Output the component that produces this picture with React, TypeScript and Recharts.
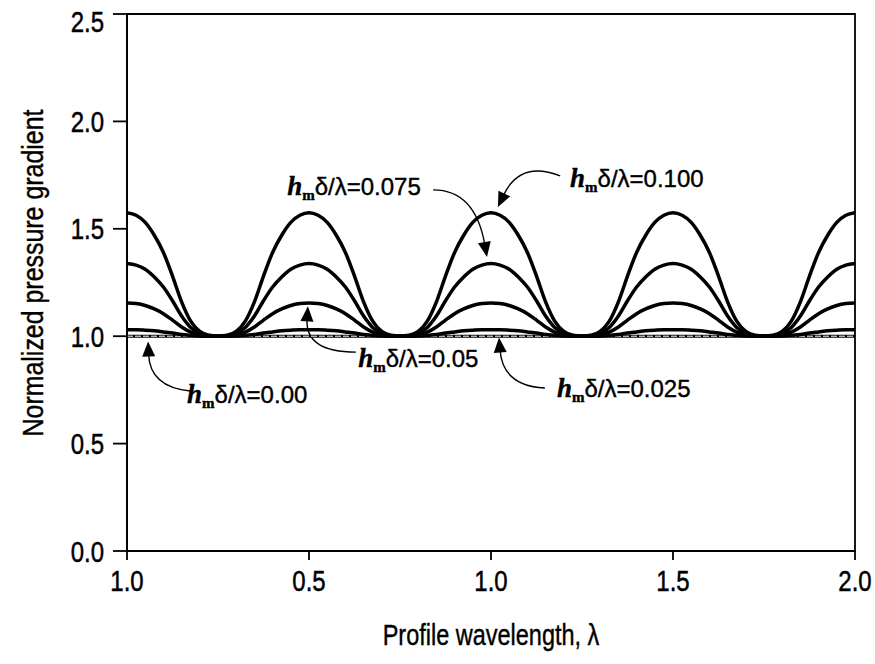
import React from 'react';
import { LineChart, Line, XAxis, YAxis, ReferenceArea, Customized } from 'recharts';

// ---------- data ----------
const X = [
  0, 0.025, 0.05, 0.075, 0.1, 0.125, 0.15, 0.175, 0.2, 0.225, 0.25, 0.275, 0.3, 0.325, 0.35, 0.375, 0.4, 0.425, 0.45, 0.475,
  0.5, 0.525, 0.55, 0.575, 0.6, 0.625, 0.65, 0.675, 0.7, 0.725, 0.75, 0.775, 0.8, 0.825, 0.85, 0.875, 0.9, 0.925, 0.95, 0.975,
  1, 1.025, 1.05, 1.075, 1.1, 1.125, 1.15, 1.175, 1.2, 1.225, 1.25, 1.275, 1.3, 1.325, 1.35, 1.375, 1.4, 1.425, 1.45, 1.475,
  1.5, 1.525, 1.55, 1.575, 1.6, 1.625, 1.65, 1.675, 1.7, 1.725, 1.75, 1.775, 1.8, 1.825, 1.85, 1.875, 1.9, 1.925, 1.95, 1.975,
  2,
];

const S100 = [
  1.575, 1.563, 1.530, 1.470, 1.390, 1.280, 1.160, 1.070, 1.022, 1.004, 1.000, 1.004, 1.022, 1.070, 1.160, 1.280, 1.390, 1.470, 1.530, 1.563,
  1.575, 1.563, 1.530, 1.470, 1.390, 1.280, 1.160, 1.070, 1.022, 1.004, 1.000, 1.004, 1.022, 1.070, 1.160, 1.280, 1.390, 1.470, 1.530, 1.563,
  1.575, 1.563, 1.530, 1.470, 1.390, 1.280, 1.160, 1.070, 1.022, 1.004, 1.000, 1.004, 1.022, 1.070, 1.160, 1.280, 1.390, 1.470, 1.530, 1.563,
  1.575, 1.563, 1.530, 1.470, 1.390, 1.280, 1.160, 1.070, 1.022, 1.004, 1.000, 1.004, 1.022, 1.070, 1.160, 1.280, 1.390, 1.470, 1.530, 1.563,
  1.575,
];

const S075 = [
  1.338, 1.331, 1.312, 1.276, 1.229, 1.165, 1.094, 1.041, 1.013, 1.002, 1.000, 1.002, 1.013, 1.041, 1.094, 1.165, 1.229, 1.276, 1.312, 1.331,
  1.338, 1.331, 1.312, 1.276, 1.229, 1.165, 1.094, 1.041, 1.013, 1.002, 1.000, 1.002, 1.013, 1.041, 1.094, 1.165, 1.229, 1.276, 1.312, 1.331,
  1.338, 1.331, 1.312, 1.276, 1.229, 1.165, 1.094, 1.041, 1.013, 1.002, 1.000, 1.002, 1.013, 1.041, 1.094, 1.165, 1.229, 1.276, 1.312, 1.331,
  1.338, 1.331, 1.312, 1.276, 1.229, 1.165, 1.094, 1.041, 1.013, 1.002, 1.000, 1.002, 1.013, 1.041, 1.094, 1.165, 1.229, 1.276, 1.312, 1.331,
  1.338,
];

const S050 = [
  1.155, 1.152, 1.143, 1.127, 1.105, 1.075, 1.043, 1.019, 1.006, 1.001, 1.000, 1.001, 1.006, 1.019, 1.043, 1.075, 1.105, 1.127, 1.143, 1.152,
  1.155, 1.152, 1.143, 1.127, 1.105, 1.075, 1.043, 1.019, 1.006, 1.001, 1.000, 1.001, 1.006, 1.019, 1.043, 1.075, 1.105, 1.127, 1.143, 1.152,
  1.155, 1.152, 1.143, 1.127, 1.105, 1.075, 1.043, 1.019, 1.006, 1.001, 1.000, 1.001, 1.006, 1.019, 1.043, 1.075, 1.105, 1.127, 1.143, 1.152,
  1.155, 1.152, 1.143, 1.127, 1.105, 1.075, 1.043, 1.019, 1.006, 1.001, 1.000, 1.001, 1.006, 1.019, 1.043, 1.075, 1.105, 1.127, 1.143, 1.152,
  1.155,
];

const S025 = [
  1.030, 1.030, 1.028, 1.025, 1.020, 1.015, 1.008, 1.004, 1.001, 1.000, 1.000, 1.000, 1.001, 1.004, 1.008, 1.015, 1.020, 1.025, 1.028, 1.030,
  1.030, 1.030, 1.028, 1.025, 1.020, 1.015, 1.008, 1.004, 1.001, 1.000, 1.000, 1.000, 1.001, 1.004, 1.008, 1.015, 1.020, 1.025, 1.028, 1.030,
  1.030, 1.030, 1.028, 1.025, 1.020, 1.015, 1.008, 1.004, 1.001, 1.000, 1.000, 1.000, 1.001, 1.004, 1.008, 1.015, 1.020, 1.025, 1.028, 1.030,
  1.030, 1.030, 1.028, 1.025, 1.020, 1.015, 1.008, 1.004, 1.001, 1.000, 1.000, 1.000, 1.001, 1.004, 1.008, 1.015, 1.020, 1.025, 1.028, 1.030,
  1.030,
];

// hmδ/λ = 0.00 : flat line
const FLAT_X = [0, 2];
const S000 = [1.0, 1.0];

const X_TICKS = [0, 0.5, 1, 1.5, 2];
const X_TICK_LABELS = ['1.0', '0.5', '1.0', '1.5', '2.0'];
const Y_TICKS = [0, 0.5, 1, 1.5, 2, 2.5];

const X_TITLE = 'Profile wavelength, λ';
const Y_TITLE = 'Normalized pressure gradient';

// annotations (data coordinates)
const ANN_VALUE = ['0.075', '0.100', '0.05', '0.025', '0.00'];
const ANN_LABEL_X = [0.44, 1.217, 0.635, 1.181, 0.165];
const ANN_LABEL_Y = [1.657, 1.695, 0.857, 0.717, 0.689];
const ANN_START = [[0.841, 1.681], [1.19, 1.746], [0.629, 0.926], [1.148, 0.759], [0.173, 0.745]];
const ANN_CTRL = [[0.956, 1.681], [1.08, 1.82], [0.489, 0.926], [1.033, 0.768], [0.063, 0.763]];
const ANN_END = [[0.989, 1.369], [1.019, 1.601], [0.497, 1.139], [1.022, 0.994], [0.058, 0.975]];

const data = X.map((x, i) => ({ x, s100: S100[i], s075: S075[i], s050: S050[i], s025: S025[i] }));
const flatData = FLAT_X.map((x, i) => ({ x, v: S000[i] }));

// ---------- layout ----------
const W = 875;
const H = 664;
const MARGIN = { top: 14, right: 20, bottom: 8, left: 8 };
const Y_AXIS_W = 119;
const X_AXIS_H = 105;
const PLOT_L = MARGIN.left + Y_AXIS_W;
const PLOT_T = MARGIN.top;
const PLOT_W = W - MARGIN.right - PLOT_L;
const PLOT_H = H - MARGIN.top - X_AXIS_H - MARGIN.bottom;
const X_DOMAIN: [number, number] = [0, 2];
const Y_DOMAIN: [number, number] = [0, 2.5];

const px = (x: number) => PLOT_L + ((x - X_DOMAIN[0]) / (X_DOMAIN[1] - X_DOMAIN[0])) * PLOT_W;
const py = (y: number) => PLOT_T + (1 - (y - Y_DOMAIN[0]) / (Y_DOMAIN[1] - Y_DOMAIN[0])) * PLOT_H;

const SANS = "'Liberation Sans', Arial, sans-serif";
const SERIF = "'Liberation Serif', 'Times New Roman', serif";
const COND = 0.8;

function XTick(props: any) {
  const { x, y, payload } = props;
  const idx = X_TICKS.indexOf(payload.value);
  const label = idx >= 0 ? X_TICK_LABELS[idx] : String(payload.value);
  return (
    <g transform={`translate(${x},${y})`}>
      <text
        transform={`scale(${COND},1)`}
        textAnchor="middle"
        dy="0.71em"
        fontFamily={SANS}
        fontSize={30}
        fill="#000"
        stroke="#000"
        strokeWidth={0.5}
      >
        {label}
      </text>
    </g>
  );
}

function YTick(props: any) {
  const { x, y, payload } = props;
  const shift = payload.value === Y_DOMAIN[1] ? 7 : 0;
  return (
    <g transform={`translate(${x},${y + shift})`}>
      <text
        transform={`scale(${COND},1)`}
        textAnchor="end"
        dy="0.355em"
        fontFamily={SANS}
        fontSize={30}
        fill="#000"
        stroke="#000"
        strokeWidth={0.5}
      >
        {Number(payload.value).toFixed(1)}
      </text>
    </g>
  );
}

function Annotations() {
  return (
    <g>
      {ANN_VALUE.map((val, i) => {
        const sx = px(ANN_START[i][0]);
        const sy = py(ANN_START[i][1]);
        const cx = px(ANN_CTRL[i][0]);
        const cy = py(ANN_CTRL[i][1]);
        const ex = px(ANN_END[i][0]);
        const ey = py(ANN_END[i][1]);
        let dx = ex - cx;
        let dy = ey - cy;
        const len = Math.hypot(dx, dy) || 1;
        dx /= len;
        dy /= len;
        const L = 15;
        const hw = 6.5;
        const bx = ex - dx * L;
        const by = ey - dy * L;
        const head = `${ex},${ey} ${bx - dy * hw},${by + dx * hw} ${bx + dy * hw},${by - dx * hw}`;
        const lx = px(ANN_LABEL_X[i]);
        const ly = py(ANN_LABEL_Y[i]);
        return (
          <g key={val}>
            <path
              d={`M${sx},${sy} Q${cx},${cy} ${bx + dx * 2},${by + dy * 2}`}
              fill="none"
              stroke="#000"
              strokeWidth={1.4}
            />
            <polygon points={head} fill="#000" />
            <text x={lx} y={ly} fill="#000" fontSize={24} fontFamily={SANS} stroke="#000" strokeWidth={0.4}>
              <tspan fontFamily={SERIF} fontStyle="italic" fontWeight="bold" fontSize={27}>h</tspan>
              <tspan fontFamily={SERIF} fontWeight="bold" fontSize={15} dy={5}>m</tspan>
              <tspan dy={-5}>{`δ/λ=${val}`}</tspan>
            </text>
          </g>
        );
      })}
      <g transform={`translate(${PLOT_L + PLOT_W / 2},645) scale(0.81,1)`}>
        <text x={0} y={0} textAnchor="middle" fontFamily={SANS} fontSize={29} fill="#000" stroke="#000" strokeWidth={0.4}>
          {X_TITLE}
        </text>
      </g>
      <g transform="translate(33,273) rotate(-90) scale(0.86,1)">
        <text
          x={0}
          y={0}
          textAnchor="middle"
          dominantBaseline="central"
          fontFamily={SANS}
          fontSize={29}
          fill="#000"
          stroke="#000"
          strokeWidth={0.4}
        >
          {Y_TITLE}
        </text>
      </g>
    </g>
  );
}

export default function App() {
  return (
    <div style={{ position: 'absolute', left: 0, top: 0, width: W, height: H, background: '#fff' }}>
      <LineChart width={W} height={H} data={data} margin={MARGIN}>
        <XAxis
          dataKey="x"
          type="number"
          domain={X_DOMAIN}
          ticks={X_TICKS}
          height={X_AXIS_H}
          axisLine={{ stroke: '#000', strokeWidth: 1.8 }}
          tickLine={{ stroke: '#000', strokeWidth: 1.8 }}
          tickSize={9}
          tickMargin={10}
          tick={<XTick />}
          allowDataOverflow
        />
        <YAxis
          type="number"
          domain={Y_DOMAIN}
          ticks={Y_TICKS}
          width={Y_AXIS_W}
          axisLine={{ stroke: '#000', strokeWidth: 1.8 }}
          tickLine={{ stroke: '#000', strokeWidth: 1.8 }}
          tickSize={14}
          tickMargin={9}
          tick={<YTick />}
          allowDataOverflow
        />
        <ReferenceArea
          x1={0}
          x2={2}
          y1={0}
          y2={2.5}
          fill="none"
          fillOpacity={0}
          stroke="#000"
          strokeWidth={1.8}
          ifOverflow="visible"
        />
        <Line data={flatData} dataKey="v" type="linear" stroke="#000" strokeWidth={3} dot={false} isAnimationActive={false} />
        <Line data={flatData} dataKey="v" type="linear" stroke="#fff" strokeWidth={1} strokeDasharray="6 2" dot={false} isAnimationActive={false} />
        <Line dataKey="s025" type="monotone" stroke="#000" strokeWidth={3.5} dot={false} isAnimationActive={false} />
        <Line dataKey="s050" type="monotone" stroke="#000" strokeWidth={3.5} dot={false} isAnimationActive={false} />
        <Line dataKey="s075" type="monotone" stroke="#000" strokeWidth={3.5} dot={false} isAnimationActive={false} />
        <Line dataKey="s100" type="monotone" stroke="#000" strokeWidth={3.5} dot={false} isAnimationActive={false} />
        <Customized component={Annotations} />
      </LineChart>
    </div>
  );
}
